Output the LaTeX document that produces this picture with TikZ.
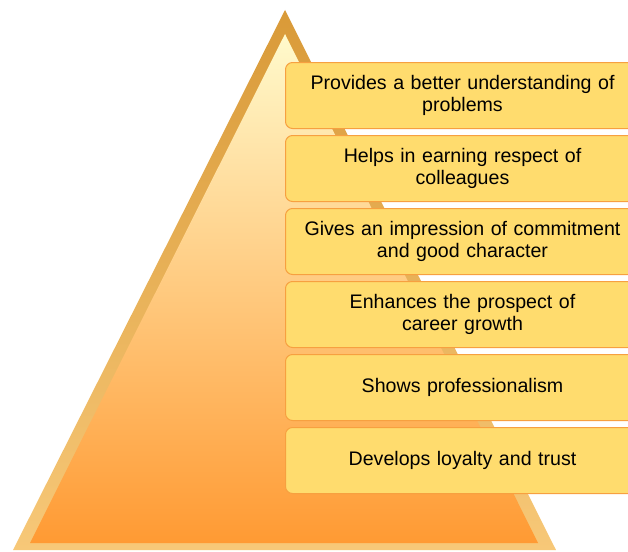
\documentclass[tikz,border=0pt]{standalone}
\usepackage{fontspec}
\setmainfont{Liberation Sans}
\definecolor{boxfill}{HTML}{FFDC6E}
\definecolor{boxline}{HTML}{F7A040}
\definecolor{rimtop}{HTML}{D99A38}
\definecolor{rimbot}{HTML}{F7C878}
\definecolor{intop}{HTML}{FFFACC}
\definecolor{inmid}{HTML}{FFC77E}
\definecolor{inbot}{HTML}{FF9A33}
\begin{document}
\begin{tikzpicture}[x=1pt,y=-1pt,
  item/.style={draw=boxline, fill=boxfill, line width=1pt, rounded corners=7pt,
    minimum width=354pt, minimum height=66pt, text width=340pt, align=center,
    anchor=north west, inner sep=0pt, font=\fontsize{19.6}{22}\selectfont}]
\useasboundingbox (0,0) rectangle (628,551);
\clip (0,0) rectangle (628,551);
% pyramid
\coordinate (oA) at (285,10);
\coordinate (oB) at (13,550);
\coordinate (oC) at (556,550);
\coordinate (iA) at (285,34);
\coordinate (iB) at (30,543);
\coordinate (iC) at (538,543);
\shade[top color=rimtop, bottom color=rimbot] (oA) -- (oB) -- (oC) -- cycle;
\shade[top color=intop, middle color=inmid, bottom color=inbot] (iA) -- (iB) -- (iC) -- cycle;
% boxes
\node[item] (b1) at (285,62) {Provides a better understanding of\\problems};
\node[item] (b2) at (285,135) {Helps in earning respect of\\colleagues};
\node[item] (b3) at (285,208) {Gives an impression of commitment\\and good character};
\node[item] (b4) at (285,281) {Enhances the prospect of\\career growth};
\node[item] (b5) at (285,354) {Shows professionalism};
\node[item] (b6) at (285,427) {Develops loyalty and trust};
\end{tikzpicture}
\end{document}
